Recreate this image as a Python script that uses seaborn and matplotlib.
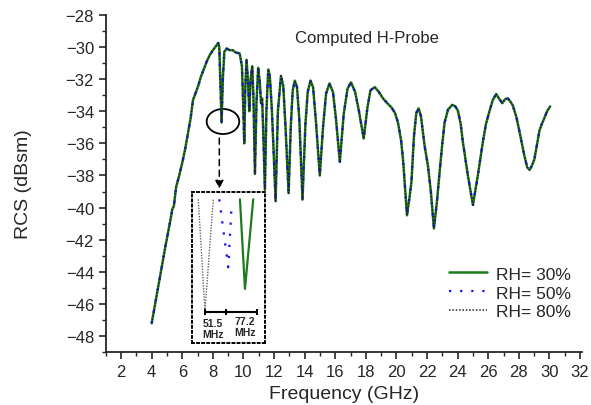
import matplotlib
matplotlib.use("Agg")
import matplotlib.pyplot as plt
import seaborn as sns
import pandas as pd
from matplotlib.patches import Ellipse

# ---------------- data ----------------
freq_ghz = [4.0, 4.3, 4.6, 4.9, 5.2, 5.35, 5.45, 5.6, 5.8, 6.0, 6.2, 6.4, 6.55, 6.7, 6.9,
            7.05, 7.2, 7.4, 7.6, 7.8, 8.0, 8.2, 8.35, 8.42, 8.5, 8.57, 8.65, 8.75, 8.9,
            9.1, 9.3, 9.5, 9.75, 9.9, 9.98, 10.05, 10.12, 10.2, 10.3, 10.38, 10.47, 10.57,
            10.65, 10.75, 10.85, 10.96, 11.07, 11.15, 11.22, 11.3, 11.4, 11.5, 11.62, 11.72,
            11.85, 11.95, 12.1, 12.25, 12.45, 12.6, 12.75, 12.95, 13.1, 13.22, 13.36, 13.5,
            13.65, 13.86, 14.05, 14.2, 14.38, 14.55, 14.75, 14.99, 15.2, 15.4, 15.62, 15.85,
            16.05, 16.3, 16.55, 16.8, 17.03, 17.3, 17.55, 17.86, 18.1, 18.3, 18.58, 18.85,
            19.12, 19.4, 19.67, 19.9, 20.1, 20.3, 20.43, 20.69, 20.85, 20.98, 21.15, 21.3,
            21.45, 21.6, 21.84, 22.06, 22.25, 22.45, 22.65, 22.82, 23.0, 23.15, 23.37, 23.65,
            23.85, 24.02, 24.2, 24.34, 24.67, 25.0, 25.32, 25.65, 25.85, 26.09, 26.3, 26.52,
            26.7, 26.92, 27.1, 27.28, 27.45, 27.61, 27.85, 28.05, 28.37, 28.55, 28.7, 28.85,
            29.02, 29.2, 29.35, 29.5, 29.68, 29.85, 30.05]
rcs_dbsm = [-47.2, -45.6, -44.0, -42.4, -40.9, -40.1, -39.9, -38.7, -38.0, -37.2, -36.3, -35.2,
            -34.4, -33.3, -32.8, -32.4, -31.9, -31.4, -30.9, -30.5, -30.2, -29.95, -29.75,
            -30.0, -32.5, -34.7, -32.0, -30.3, -30.1, -30.2, -30.2, -30.35, -30.4, -31.2,
            -33.5, -36.0, -32.5, -30.8, -32.2, -34.0, -32.0, -31.2, -33.0, -37.9, -33.5,
            -31.3, -32.2, -33.5, -33.2, -35.5, -38.9, -34.0, -31.4, -31.8, -33.8, -36.0,
            -39.6, -34.0, -31.8, -32.4, -35.0, -39.1, -34.8, -32.7, -32.1, -32.5, -34.5,
            -39.5, -34.8, -32.8, -32.1, -32.5, -34.8, -38.0, -35.0, -32.9, -32.27, -32.8,
            -34.5, -37.15, -34.2, -32.6, -32.2, -32.8, -34.0, -35.7, -33.8, -32.7, -32.5,
            -32.8, -33.2, -33.5, -33.76, -34.1, -34.7, -35.8, -37.0, -40.48, -39.4, -38.4,
            -35.5, -34.1, -33.82, -34.3, -36.15, -37.4, -39.0, -41.3, -39.6, -37.8, -36.0,
            -34.7, -33.9, -33.6, -33.7, -33.97, -34.8, -35.9, -38.0, -39.83, -38.0, -35.9,
            -34.8, -33.97, -33.3, -32.93, -33.2, -33.5, -33.25, -33.2, -33.4, -33.65, -34.4,
            -35.3, -36.8, -37.5, -37.65, -37.4, -36.98, -36.0, -35.2, -34.8, -34.4, -34.0,
            -33.7]
series_labels = ["RH= 30%", "RH= 50%", "RH= 80%"]

# inset (zoom of the dip near 8.6 GHz), x in MHz relative to the RH=80% minimum
inset_x_80 = [-16.7, 0.0, 20.7]
inset_y_80 = [-33.7, -44.8, -33.7]
inset_x_50 = [35.6, 58.0, 66.5]
inset_y_50 = [-33.7, -40.45, -34.2]
inset_x_30 = [87.1, 99.6, 120.2]
inset_y_30 = [-33.7, -42.6, -33.7]
scale_bar_x = [0.0, 51.5, 128.7]
scale_bar_labels = ["51.5\nMHz", "77.2\nMHz"]

x_ticks = list(range(2, 33, 2))
y_ticks = list(range(-48, -27, 2))

# ---------------- style ----------------
sns.set_style("ticks")
plt.rcParams["font.family"] = ["Liberation Sans", "DejaVu Sans"]

fig = plt.figure(figsize=(5.91, 4.06), dpi=100)
ax = fig.add_axes([0.179, 0.130, 0.805, 0.831])

df = pd.DataFrame({"f": freq_ghz, "rcs": rcs_dbsm})
green = "#1f7a1f"
sns.lineplot(data=df, x="f", y="rcs", ax=ax, color=green, lw=1.8, label=series_labels[0])
sns.lineplot(data=df, x="f", y="rcs", ax=ax, color="#1010ff", lw=1.6,
             linestyle=(0, (1, 4)), label=series_labels[1])
sns.lineplot(data=df, x="f", y="rcs", ax=ax, color="#222222", lw=1.1,
             linestyle=(0, (1, 1.2)), label=series_labels[2])

ax.set_xlim(1, 32.1)
ax.set_ylim(-49, -28)
ax.set_xticks(x_ticks)
ax.set_yticks(y_ticks)
ax.set_xticks(list(range(1, 33, 1)), minor=True)
ax.set_yticks(list(range(-49, -27, 1)), minor=True)
ax.set_yticklabels([f"\u2212{abs(v)}" for v in y_ticks])
ax.tick_params(axis="both", which="major", labelsize=12, length=5, width=1.2, direction="out")
ax.tick_params(axis="both", which="minor", length=3, width=1.0, direction="out")
for s in ["left", "bottom"]:
    ax.spines[s].set_linewidth(1.3)
sns.despine(ax=ax)

ax.set_xlabel("Frequency (GHz)", fontsize=14, labelpad=4)
ax.set_ylabel("RCS (dBsm)", fontsize=14, labelpad=24)

ax.text(13.4, -29.4, "Computed H-Probe", fontsize=12, va="center", ha="left")

ax.add_patch(Ellipse((8.66, -34.64), 2.13, 1.56, fill=False, ec="black", lw=1.3))
ax.annotate("", xy=(8.42, -39.0), xytext=(8.42, -35.5),
            arrowprops=dict(arrowstyle="-|>", color="black", lw=1.1, linestyle=(0, (4, 3)),
                            mutation_scale=12))

leg = ax.legend(loc="upper left", bbox_to_anchor=(0.707, 0.275), frameon=False, fontsize=12.5,
                handlelength=2.2, handletextpad=0.5, labelspacing=0.22, borderaxespad=0)

# ---------------- inset ----------------
ins = fig.add_axes([0.3244, 0.152, 0.124, 0.372])
ins.plot(inset_x_80, inset_y_80, color="#666666", lw=1.0, linestyle=(0, (1, 1)))
ins.plot(inset_x_50, inset_y_50, color="#1010ff", lw=1.6, linestyle=(0, (1, 4)))
ins.plot(inset_x_30, inset_y_30, color=green, lw=1.6)
ins.plot(scale_bar_x, [-44.92] * 3, color="black", lw=1.5, marker="|", ms=5, mew=1.5)
ins.text(20.7, -46.5, scale_bar_labels[0], fontsize=7.5, fontweight="bold", ha="center", va="center",
         linespacing=1.1)
ins.text(99.6, -46.35, scale_bar_labels[1], fontsize=7.5, fontweight="bold", ha="center", va="center",
         linespacing=1.1)
ins.set_xlim(-33, 149.5)
ins.set_ylim(-48, -33)
ins.set_xticks([])
ins.set_yticks([])
for s in ins.spines.values():
    s.set_visible(True)
    s.set_linestyle((0, (1, 1.6)))
    s.set_linewidth(1.4)
    s.set_color("black")

fig.savefig("out.png", dpi=100)
